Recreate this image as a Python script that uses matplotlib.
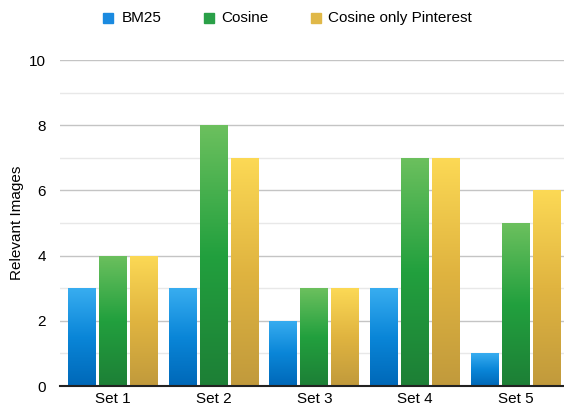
import numpy as np
import matplotlib
matplotlib.use("Agg")
import matplotlib.pyplot as plt
from matplotlib.patches import Rectangle
from matplotlib.colors import LinearSegmentedColormap

plt.rcParams['font.family'] = ['Liberation Sans', 'DejaVu Sans']

categories = ["Set 1", "Set 2", "Set 3", "Set 4", "Set 5"]
series_names = ["BM25", "Cosine", "Cosine only Pinterest"]
bm25 = [3, 3, 2, 3, 1]
cosine = [4, 8, 3, 7, 5]
cosine_pin = [4, 7, 3, 7, 6]

# gradient colours (bottom -> top)
grads = [
    ["#0068b8", "#0a86d8", "#38adf0"],
    ["#1d7f36", "#22a03e", "#6cc05e"],
    ["#c19a3c", "#e0b440", "#fcd955"],
]
legend_cols = ["#1a8ae0", "#2aa048", "#e0b848"]

W, H = 564, 407
fig = plt.figure(figsize=(W / 100, H / 100), dpi=100)
ax = fig.add_axes([60 / W, 21 / H, (W - 60) / W, (386 - 60) / H])

x = np.arange(len(categories))
width = 0.278
offs = [-0.308, 0.0, 0.308]
grad = np.linspace(0, 1, 256).reshape(-1, 1)
for vals, off, cols in zip([bm25, cosine, cosine_pin], offs, grads):
    cmap = LinearSegmentedColormap.from_list("g", cols)
    bars = ax.bar(x + off, vals, width, color="none", edgecolor="none", zorder=3)
    for b in bars:
        x0, y0 = b.get_x(), b.get_y()
        w, h = b.get_width(), b.get_height()
        im = ax.imshow(grad, cmap=cmap, origin="lower", aspect="auto",
                       extent=[x0, x0 + w, y0, y0 + h], zorder=3)
        im.set_clip_path(b)

ax.set_xlim(-0.527, 4.48)
ax.set_ylim(0, 10)
ax.set_yticks([0, 2, 4, 6, 8, 10])
ax.set_yticks([1, 3, 5, 7, 9], minor=True)
ax.set_xticks(x)
ax.set_xticklabels(categories, fontsize=11)
ax.tick_params(axis="y", which="both", length=0, labelsize=11, pad=10)
ax.tick_params(axis="x", length=0, pad=4)
ax.grid(axis="y", which="major", color="#c4c4c4", linewidth=1.0, zorder=1)
ax.grid(axis="y", which="minor", color="#e8e8e8", linewidth=1.0, zorder=1)
for s in ["top", "right", "left"]:
    ax.spines[s].set_visible(False)
ax.spines["bottom"].set_color("#222222")
ax.spines["bottom"].set_linewidth(1.5)
ax.spines["bottom"].set_zorder(4)
ax.set_ylabel("Relevant Images", fontsize=11)
ax.yaxis.set_label_coords(-36 / (W - 60), 0.5)

# legend
leg_items = [(103, 122), (204, 221), (311, 328)]
for (sx, tx), name, c in zip(leg_items, series_names, legend_cols):
    fig.add_artist(Rectangle((sx / W, 1 - 23 / H), 10 / W, 10 / H,
                             transform=fig.transFigure, color=c))
    fig.text(tx / W, 1 - 18 / H, name, fontsize=11, va="center", ha="left")

fig.savefig("out.png", dpi=100)
